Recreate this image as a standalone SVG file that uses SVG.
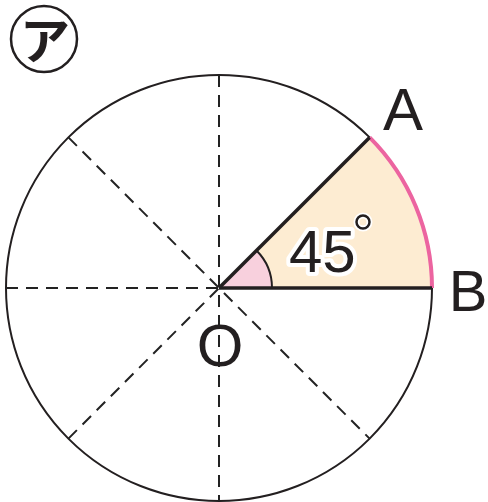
<svg xmlns="http://www.w3.org/2000/svg" width="488" height="502" viewBox="0 0 488 502">
<style>
.dash{stroke:#222;stroke-width:2;stroke-dasharray:12 8;fill:none}
.lbl{font-family:"Liberation Sans",Arial,sans-serif;fill:#231f20}
</style>
<rect width="488" height="502" fill="#fff"/>
<g id="label-a">
<circle cx="44" cy="39" r="33" fill="#fff" stroke="#231f20" stroke-width="2.5"/>
<text x="45" y="59" text-anchor="middle" font-family="'Noto Sans CJK JP',sans-serif" font-weight="bold" font-size="50" fill="#231f20">ア</text>
</g>
<g id="sector">
<path d="M219,288 L369.6,137.4 A213,213 0 0 1 432,288 Z" fill="#fdecd2"/>
<path d="M219,288 L272,288 A53,53 0 0 0 256.5,250.5 Z" fill="#f8d0dd"/>
</g>
<g id="connectors">
<circle cx="219" cy="288" r="213" fill="none" stroke="#231f20" stroke-width="2"/>
<line class="dash" x1="219" y1="75" x2="219" y2="501"/>
<line class="dash" x1="6" y1="288" x2="219" y2="288"/>
<line class="dash" x1="68.4" y1="137.4" x2="369.6" y2="438.6"/>
<line class="dash" x1="68.4" y1="438.6" x2="219" y2="288"/>
<path d="M272,288 A53,53 0 0 0 256.5,250.5" fill="none" stroke="#231f20" stroke-width="2"/>
<path d="M369.6,137.4 A213,213 0 0 1 432,288" fill="none" stroke="#ec64a0" stroke-width="4"/>
<line x1="219" y1="288" x2="369.6" y2="137.4" stroke="#231f20" stroke-width="3.5"/>
<line x1="219" y1="288" x2="432" y2="288" stroke="#231f20" stroke-width="3.5"/>
</g>
<g id="text">
<text class="lbl" x="289" y="272" font-size="60" stroke="#fff" stroke-width="8" stroke-linejoin="round">45</text>
<text class="lbl" x="289" y="272" font-size="60">45</text>
<circle cx="363" cy="222" r="6.5" fill="none" stroke="#fff" stroke-width="6"/>
<circle cx="363" cy="222" r="6.5" fill="none" stroke="#231f20" stroke-width="2.5"/>
<text class="lbl" x="403" y="130" font-size="60" text-anchor="middle">A</text>
<text class="lbl" x="468" y="311" font-size="58" text-anchor="middle">B</text>
<text class="lbl" x="220" y="366" font-size="60" text-anchor="middle">O</text>
</g>
</svg>
